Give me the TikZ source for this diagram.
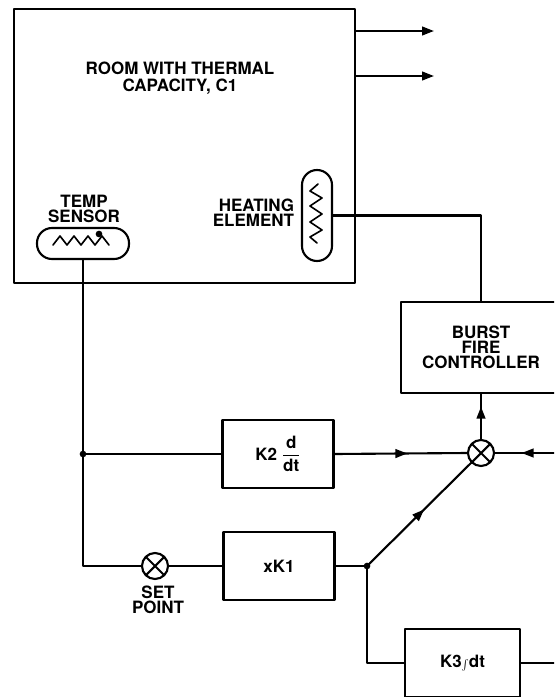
\documentclass[tikz,border=0pt]{standalone}
\usepackage{fontspec}
\setmainfont{TeX Gyre Heros}
\usepackage{amsmath}
\usetikzlibrary{arrows.meta,decorations.markings}

\tikzset{
  blockbox/.style={draw, minimum width=3.33cm, minimum height=2.03cm, align=center},
  capsule/.style={draw, rounded corners=0.45cm},
  sumjunc/.style={draw, circle, minimum size=0.78cm, inner sep=0pt,
    path picture={\draw (path picture bounding box.north west) -- (path picture bounding box.south east)
                        (path picture bounding box.north east) -- (path picture bounding box.south west);}},
  tip/.tip={Triangle[length=3.6mm,width=2.6mm]},
  midarrow/.style={postaction={decorate},
    decoration={markings, mark=at position #1 with {\arrow{tip}}}}
}

\begin{document}
\begin{tikzpicture}[x=0.03cm, y=-0.03cm, line width=1.8pt, line cap=round, line join=round,
  font=\fontsize{14.5}{13}\selectfont\bfseries]

% frame
\useasboundingbox (0,0) rectangle (554,697);
\clip (0,0) rectangle (554,697);

% room
\node[draw, minimum width=10.23cm, minimum height=8.22cm] (room) at (184.5,146) {};
\node[align=center, font=\fontsize{14.5}{14.5}\selectfont\bfseries] (title) at (180,78) {ROOM WITH THERMAL\\CAPACITY, C1};

% heat losses
\coordinate (loss1) at (434,31);
\coordinate (loss2) at (434,76);
\draw[-tip] (room.east |- loss1) -- (loss1);
\draw[-tip] (room.east |- loss2) -- (loss2);

% heating element
\node[capsule, minimum width=0.9cm, minimum height=2.73cm] (heater) at (317,215.5) {};
\draw[line width=1.4pt] (318,184) -- (310,191) -- (322,198) -- (310,206) -- (322,214)
  -- (310,222) -- (322,230) -- (310,237) -- (317,243);
\node[anchor=east, align=right] (heatlbl) at (299,213) {HEATING\\ELEMENT};

% temp sensor
\node[capsule, minimum width=2.76cm, minimum height=0.93cm] (sensor) at (83,243.5) {};
\draw[line width=1.4pt] (53,245) -- (60,236) -- (67,245) -- (74,236) -- (81,245)
  -- (88,236) -- (95,245) -- (102,236) -- (109,245);
\fill (99,234) circle (0.1cm);
\node[align=center] (senslbl) at (84,209) {TEMP\\SENSOR};

% blocks
\node[blockbox, minimum width=4.8cm, minimum height=2.73cm] (bfc) at (481,347.5) {BURST\\FIRE\\CONTROLLER};
\node[blockbox] (k2) at (278,454) {K2 $\dfrac{\text{d}}{\text{dt}}$};
\node[blockbox] (k1) at (279,566) {xK1};
\node[blockbox, minimum width=3.45cm] (k3) at (462.5,663) {K3{\small$\int$}dt};

% summing points
\node[sumjunc] (sum) at (481,453) {};
\node[sumjunc] (setpt) at (155,566) {};
\node[align=center] (setlbl) at (158,599.5) {SET\\POINT};

% junctions
\coordinate (tap) at (sensor.south |- k2);
\coordinate (split) at (367,566);
\coordinate (fb) at (554,453);
\coordinate (k3out) at (554,663);

% connections
\draw (heater.east) -| (bfc.north);
\draw (sensor.south) -- (sensor.south |- setpt) -- (setpt.west);
\draw (tap) -- (k2.west);
\draw (setpt.east) -- (k1.west);
\draw (k1.east) -- (split);
\draw[midarrow=0.55] (k2.east) -- (sum.west);
\draw[midarrow=0.55] (split) -- (sum.south west);
\draw[midarrow=0.72] (sum.north) -- (bfc.south);
\draw[midarrow=0.55] (fb) -- (sum.east);
\draw (split) |- (k3.west);
\draw (k3.east) -- (k3out);
\fill (tap) circle (0.1cm);
\fill (split) circle (0.1cm);

\end{tikzpicture}
\end{document}
